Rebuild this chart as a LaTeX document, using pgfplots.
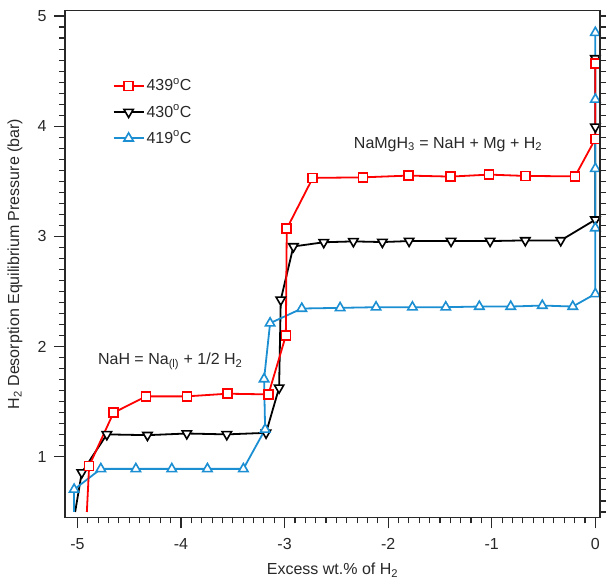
\documentclass[border=0pt]{standalone}
\usepackage{fontspec}
\setmainfont{Liberation Sans}
\usepackage{pgfplots}
\pgfplotsset{compat=1.18}
\definecolor{rd}{RGB}{255,0,0}
\definecolor{bl}{RGB}{27,143,210}
\definecolor{ax}{RGB}{40,40,40}

\pgfplotsset{
  rdstyle/.style={rd, line width=1.8bp, mark=square*, mark size=4.5bp,
    mark options={fill=white, line width=1.6bp}},
  bkstyle/.style={black, line width=1.8bp, mark=triangle*, mark size=5.4bp,
    mark options={fill=white, rotate=180, line width=1.6bp}},
  blstyle/.style={bl, line width=1.8bp, mark=triangle*, mark size=5.4bp,
    mark options={fill=white, line width=1.6bp}},
}

\begin{document}
\fontsize{16bp}{19bp}\selectfont
\begin{tikzpicture}
\begin{axis}[
  scale only axis,
  width=535bp, height=507bp,
  xmin=-5.12, xmax=0.045,
  ymin=0.45, ymax=5.05,
  xtick={-5,-4,...,0},
  ytick={1,2,3,4,5},
  minor tick num=9,
  tick align=outside,
  xtick pos=bottom, ytick pos=left,
  major tick length=11bp, minor tick length=6bp,
  axis line style={ax, line width=1.3bp},
  every tick/.style={ax, line width=1.1bp},
  /pgf/number format/assume math mode=true,
  ticklabel style={font=\fontsize{16bp}{19bp}\selectfont, text=ax},
  xticklabel style={yshift=-4bp},
  yticklabel style={xshift=-2bp},
  xlabel={Excess wt.\% of H\textsubscript{2}},
  ylabel={H\textsubscript{2} Desorption Equilibrium Pressure (bar)},
  label style={font=\fontsize{16bp}{19bp}\selectfont, text=ax},
  xlabel style={at={(axis description cs:0.5,-0.1036)}, anchor=center},
  ylabel style={at={(axis description cs:-0.0935,0.5)}, anchor=center},
  legend cell align=left,
  legend image code/.code={\draw[mark repeat=2, mark phase=2, #1]
    plot coordinates {(0bp,0bp) (15bp,0bp) (30bp,0bp)};},
  legend style={draw=none, fill=none, at={(axis cs:-4.69,4.47)},
    anchor=north west, row sep=7.5bp,
    font=\fontsize{16bp}{19bp}\selectfont, text=ax},
]
\addlegendimage{rdstyle}
\addlegendimage{bkstyle}
\addlegendimage{blstyle}
\legend{439\textsuperscript{o}C, 430\textsuperscript{o}C, 419\textsuperscript{o}C}

% 430 C
\addplot[black, line width=1.8bp, forget plot] coordinates {(-5.022,0.50) (-4.958,0.858)};
\addplot[bkstyle, forget plot] coordinates {
  (-4.958,0.858) (-4.716,1.204) (-4.324,1.197) (-3.944,1.212) (-3.558,1.204)
  (-3.179,1.218) (-3.053,1.627) (-3.037,2.425) (-2.915,2.909) (-2.622,2.947)
  (-2.336,2.955) (-2.056,2.949) (-1.798,2.958) (-1.393,2.958) (-1.016,2.958)
  (-0.676,2.964) (-0.334,2.964) (0.000,3.152) (0.000,3.995) (0.000,4.615)
};

% 419 C
\addplot[bl, line width=1.8bp, forget plot] coordinates {(-5.032,0.50) (-5.032,0.704)};
\addplot[blstyle, forget plot] coordinates {
  (-5.032,0.704) (-4.774,0.891) (-4.436,0.891) (-4.089,0.891) (-3.745,0.891)
  (-3.398,0.891) (-3.188,1.249) (-3.198,1.706) (-3.140,2.213) (-2.834,2.346)
  (-2.464,2.352) (-2.117,2.358) (-1.766,2.358) (-1.444,2.358) (-1.120,2.364)
  (-0.817,2.364) (-0.512,2.373) (-0.218,2.364) (0.000,2.479) (0.000,3.076)
  (0.000,3.615) (0.000,4.243) (0.000,4.849)
};

% 439 C
\addplot[rd, line width=1.8bp, forget plot] coordinates {(-4.909,0.50) (-4.887,0.918)};
\addplot[rdstyle, forget plot] coordinates {
  (-4.887,0.918) (-4.652,1.400) (-4.337,1.549) (-3.944,1.549) (-3.552,1.573)
  (-3.156,1.567) (-2.988,2.100) (-2.979,3.070) (-2.728,3.531) (-2.245,3.536)
  (-1.805,3.552) (-1.396,3.543) (-1.026,3.561) (-0.676,3.549) (-0.196,3.545)
  (0.000,3.885) (0.000,4.567)
};

\node[text=ax] at (axis cs:-1.422,3.834) {NaMgH\textsubscript{3} = NaH + Mg + H\textsubscript{2}};
\node[text=ax] at (axis cs:-4.104,1.864) {NaH = Na\textsubscript{(l)} + 1/2 H\textsubscript{2}};
\end{axis}

% right-hand ticks
\begin{axis}[
  scale only axis,
  width=535bp, height=507bp,
  xmin=-5.12, xmax=0.045,
  ymin=0.45, ymax=5.05,
  hide x axis,
  axis y line*=right,
  ytick={0.5,0.6,...,5.01},
  yticklabels={},
  tick align=outside,
  major tick length=6bp,
  axis line style={ax, line width=1.3bp},
  every tick/.style={ax, line width=1.1bp},
]
\addplot[draw=none] coordinates {(-5,1)};
\end{axis}

\pgfresetboundingbox
\path[use as bounding box] ([shift={(-65bp,-61.5bp)}]current axis.south west)
  rectangle ([shift={(6bp,10.5bp)}]current axis.north east);
\end{tikzpicture}
\end{document}
